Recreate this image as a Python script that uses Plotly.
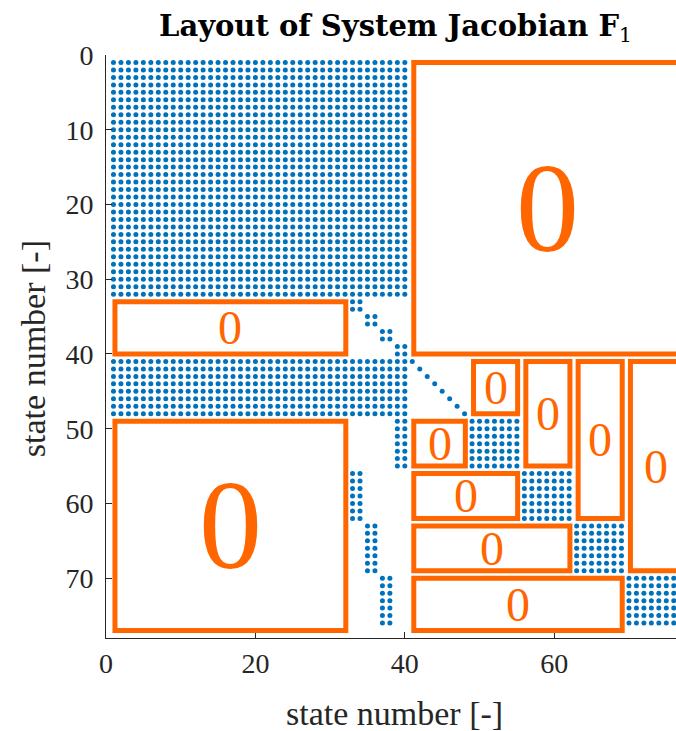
import numpy as np
import plotly.graph_objects as go

n_states = 77

# Nonzero blocks of the Jacobian: first/last row and first/last column (1-based)
dense_row_first = [1, 41, 49, 49, 56, 56, 63, 63, 70, 70]
dense_row_last = [32, 48, 55, 55, 62, 62, 69, 69, 76, 76]
dense_col_first = [1, 1, 39, 49, 33, 56, 35, 63, 37, 70]
dense_col_last = [40, 40, 40, 55, 34, 62, 36, 69, 38, 77]

# 2x2 coupling blocks on the diagonal (rows/cols 33..40)
coupling_block_first = [33, 35, 37, 39]
coupling_block_size = 2

# Single diagonal entries
diag_entries = [41, 42, 43, 44, 45, 46, 47, 48]

# Structurally zero blocks that get outlined and labelled "0"
zero_row_first = [1, 33, 49, 41, 41, 41, 41, 49, 56, 63, 70]
zero_row_last = [40, 40, 77, 48, 55, 62, 69, 55, 62, 69, 77]
zero_col_first = [41, 1, 1, 49, 56, 63, 70, 41, 41, 41, 41]
zero_col_last = [77, 32, 32, 55, 62, 69, 77, 48, 55, 62, 69]

x_ticks = [0, 20, 40, 60]
y_ticks = [0, 10, 20, 30, 40, 50, 60, 70]

# ---- sparsity pattern ----
S = np.zeros((n_states, n_states), dtype=bool)
for r0, r1, c0, c1 in zip(dense_row_first, dense_row_last, dense_col_first, dense_col_last):
    S[r0 - 1:r1, c0 - 1:c1] = True
for k in coupling_block_first:
    S[k - 1:k - 1 + coupling_block_size, k - 1:k - 1 + coupling_block_size] = True
for k in diag_entries:
    S[k - 1, k - 1] = True
rows, cols = np.nonzero(S)
rows = rows + 1
cols = cols + 1

BLUE = "#0072BD"
ORANGE = "#FF6600"
AXIS = "#262626"
SERIF = "Liberation Serif, Times New Roman, serif"

fig = go.Figure()
fig.add_trace(go.Scatter(
    x=cols, y=rows, mode="markers",
    marker=dict(size=5, color=BLUE, line=dict(width=0)),
    hoverinfo="skip", showlegend=False,
))

# outline every zero block and put a "0" in its centre
pad_left, pad_right = 0.2, 0.1
shapes = []
annotations = []
for r0, r1, c0, c1 in zip(zero_row_first, zero_row_last, zero_col_first, zero_col_last):
    x0, x1 = c0 + pad_left, c1 + pad_right
    y0, y1 = r0, r1
    shapes.append(dict(type="rect", xref="x", yref="y", x0=x0, x1=x1, y0=y0, y1=y1,
                       line=dict(color=ORANGE, width=5), fillcolor="rgba(0,0,0,0)",
                       layer="above"))
    big = (r1 - r0 >= 20) and (c1 - c0 >= 20)
    annotations.append(dict(
        x=(x0 + x1) / 2, y=(y0 + y1) / 2, xref="x", yref="y",
        text="0", showarrow=False, xanchor="center", yanchor="middle",
        font=dict(family=SERIF, size=126 if big else 48, color=ORANGE),
    ))

# axis titles
annotations.append(dict(
    x=0.507, y=-0.129, xref="paper", yref="paper", text="state number [-]",
    showarrow=False, xanchor="center", yanchor="middle",
    font=dict(family=SERIF, size=34, color=AXIS),
))
annotations.append(dict(
    x=-0.128, y=0.4955, xref="paper", yref="paper", text="state number [-]",
    showarrow=False, xanchor="center", yanchor="middle", textangle=-90,
    font=dict(family=SERIF, size=34, color=AXIS),
))

axis_common = dict(
    showgrid=False, zeroline=False, showline=True, linecolor=AXIS, linewidth=1,
    ticks="inside", ticklen=6, tickwidth=1, tickcolor=AXIS,
    tickfont=dict(family=SERIF, size=28, color=AXIS),
    mirror=False,
)

fig.update_layout(
    width=676, height=731,
    margin=dict(l=106, r=0, t=55, b=93),
    paper_bgcolor="white", plot_bgcolor="white",
    title=dict(
        text="<b>Layout of System Jacobian F</b><sub>1</sub>",
        x=0.585, xref="container", xanchor="center",
        y=1 - 26 / 731, yref="container", yanchor="middle",
        font=dict(family="DejaVu Serif, serif", size=29, color="black"),
    ),
    xaxis=dict(range=[0, 76.3], tickvals=x_ticks, ticklabelstandoff=0, **axis_common),
    yaxis=dict(range=[78, 0], tickvals=y_ticks, ticklabelstandoff=6, **axis_common),
    shapes=shapes,
    annotations=annotations,
)

fig.write_html("out.html")
